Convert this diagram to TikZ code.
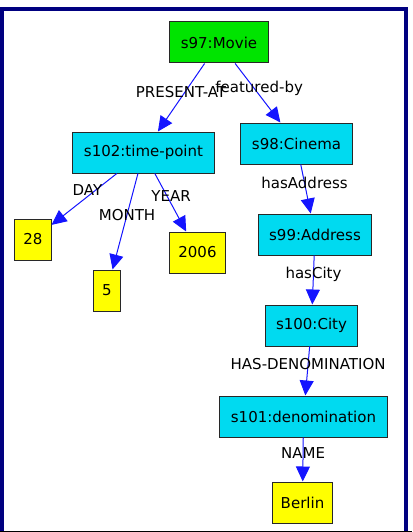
\documentclass[tikz,border=0pt]{standalone}
\usepackage{fontspec}
\setmainfont{DejaVu Sans}
\usetikzlibrary{arrows.meta}

\definecolor{framenavy}{RGB}{0,0,128}
\definecolor{movgreen}{RGB}{0,228,0}
\definecolor{clscyan}{RGB}{0,218,240}
\definecolor{valyellow}{RGB}{255,255,0}
\definecolor{edgeblue}{RGB}{20,20,255}
\definecolor{boxgray}{RGB}{40,40,40}
\definecolor{baseline}{RGB}{170,170,210}

\tikzset{
  classbox/.style={draw=boxgray, line width=1pt, fill=clscyan, minimum height=41pt,
    inner xsep=11pt, font=\fontsize{15}{17}\selectfont},
  valbox/.style={draw=boxgray, line width=1pt, fill=valyellow, minimum height=41pt,
    inner xsep=8.5pt, font=\fontsize{15}{17}\selectfont},
  link/.style={draw=edgeblue, line width=1pt, -{Triangle[width=14pt,length=15pt]}},
  linklabel/.style={font=\fontsize{15}{17}\selectfont, inner sep=0pt}
}

\begin{document}
\begin{tikzpicture}[x=1pt, y=-1pt]
% Fix the page size
\useasboundingbox (0,0) rectangle (412,532);
% Draw the frame
\draw[line width=4pt, framenavy] (1.5,532) -- (1.5,9) -- (406,9) -- (406,532);
\draw[line width=1pt, baseline] (0,531) -- (412,531);
% Draw the nodes
\node[classbox, fill=movgreen] (movie) at (219,42.5) {s97:Movie};
\node[classbox] (timepoint) at (143.5,152.5) {s102:time-point};
\node[classbox] (cinema) at (296.5,143.5) {s98:Cinema};
\node[valbox] (day) at (33,239.5) {28};
\node[valbox] (month) at (107,290.5) {5};
\node[valbox] (year) at (197.5,252.5) {2006};
\node[classbox] (address) at (315,234.5) {s99:Address};
\node[classbox] (city) at (311.5,325.5) {s100:City};
\node[classbox] (denom) at (303.5,416.5) {s101:denomination};
\node[valbox] (berlin) at (302.5,502.5) {Berlin};
% Draw the links
\draw[link] (movie) -- node[linklabel, pos=0.42, xshift=-4pt] {PRESENT-AT} (timepoint);
\draw[link] (movie) -- node[linklabel, pos=0.42, xshift=5pt] {featured-by} (cinema);
\draw[link] (timepoint) -- node[linklabel, pos=0.45, yshift=7pt] {DAY} (day);
\draw[link] (timepoint) -- node[linklabel, pos=0.43] {MONTH} (month);
\draw[link] (timepoint) -- node[linklabel, pos=0.39, xshift=4pt] {YEAR} (year);
\draw[link] (cinema) -- node[linklabel, pos=0.38] {hasAddress} (address);
\draw[link] (address) -- node[linklabel, pos=0.38] {hasCity} (city);
\draw[link] (city) -- node[linklabel, pos=0.36] {HAS-DENOMINATION} (denom);
\draw[link] (denom) -- node[linklabel, pos=0.36] {NAME} (berlin);
\end{tikzpicture}
\end{document}
